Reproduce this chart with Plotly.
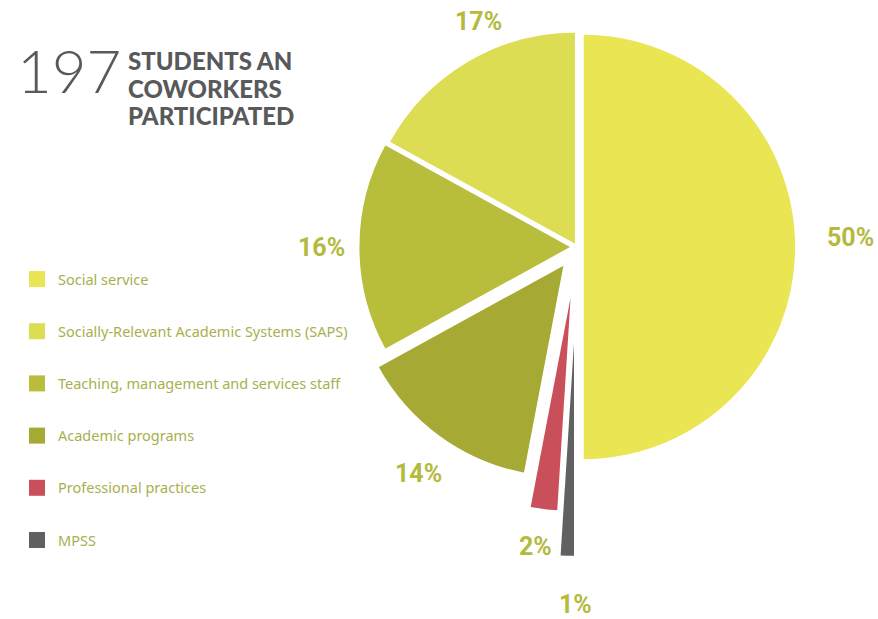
import math
import plotly.graph_objects as go

# Slice data, clockwise from 12 o'clock
labels = [
    "Social service",
    "MPSS",
    "Professional practices",
    "Academic programs",
    "Teaching, management and services staff",
    "Socially-Relevant Academic Systems (SAPS)",
]
values = [50, 1, 2, 14, 16, 17]

# Legend order (top to bottom)
legend_labels = [
    "Social service",
    "Socially-Relevant Academic Systems (SAPS)",
    "Teaching, management and services staff",
    "Academic programs",
    "Professional practices",
    "MPSS",
]

headline_number = "197"
headline_lines = ["STUDENTS AN", "COWORKERS", "PARTICIPATED"]

# Styling
colors = {
    "Social service": "#E9E553",
    "MPSS": "#616161",
    "Professional practices": "#C9505A",
    "Academic programs": "#A6A934",
    "Teaching, management and services staff": "#B8BD3C",
    "Socially-Relevant Academic Systems (SAPS)": "#DCDD53",
}
pulls = [0.028, 0.45, 0.24, 0.10, 0.025, 0.012]     # fraction of radius
edge_width = [1.5, 0, 0, 1.5, 1.5, 1.5]               # white slice outline
label_gap = [55, 47, 38, 42, 37, 30]                  # px beyond slice edge
label_nudge = [(0, -10), (10, 2), (-4, 0), (4, 3), (0, 0), (26, -14)]
pct_color = "#B3BA3E"
legend_text_color = "#A9AF4E"
title_color = "#58595B"

W, H = 878, 619
CX, CY, R = 577, 247, 213

n = len(values)
total = sum(values)

fig = go.Figure()
annotations = []
shapes = []

start = 0.0
for i, (lab, val) in enumerate(zip(labels, values)):
    mid = (start + val / 2.0) / total * 2 * math.pi
    start += val
    # exploded slice: each slice is its own pie, shifted outward along its bisector
    off = pulls[i] * R
    cx = CX + off * math.sin(mid)
    cy = CY - off * math.cos(mid)
    fig.add_trace(go.Pie(
        values=values,
        labels=labels,
        sort=False,
        direction="clockwise",
        rotation=0,
        textinfo="none",
        hoverinfo="label+percent",
        showlegend=False,
        marker=dict(
            colors=[colors[labels[j]] if j == i else "rgba(0,0,0,0)" for j in range(n)],
            line=dict(color="white", width=[edge_width[i] if j == i else 0 for j in range(n)]),
        ),
        domain=dict(
            x=[(cx - R) / W, (cx + R) / W],
            y=[1 - (cy + R) / H, 1 - (cy - R) / H],
        ),
    ))
    # percentage label outside the slice
    rr = R * (1 + pulls[i]) + label_gap[i]
    lx = CX + rr * math.sin(mid) + label_nudge[i][0]
    ly = CY - rr * math.cos(mid) + label_nudge[i][1]
    annotations.append(dict(
        x=lx / W, y=1 - ly / H, xref="paper", yref="paper",
        text=f"{val}%", showarrow=False, xanchor="center", yanchor="middle",
        font=dict(family="Roboto", size=25, color=pct_color, weight="bold"),
    ))

# Legend: squares with labels
for k, lab in enumerate(legend_labels):
    yc = 279 + k * 52.2
    shapes.append(dict(
        type="rect", xref="paper", yref="paper",
        x0=29 / W, x1=45 / W, y0=1 - (yc + 8) / H, y1=1 - (yc - 8) / H,
        fillcolor=colors[lab], line=dict(width=0),
    ))
    annotations.append(dict(
        x=56 / W, y=1 - (yc - 0.5) / H, xref="paper", yref="paper",
        text=lab, showarrow=False, xanchor="left", yanchor="middle",
        font=dict(family="Noto Sans", size=14.5, color=legend_text_color),
    ))

# Headline
annotations.append(dict(
    x=15 / W, y=1 - 70 / H, xref="paper", yref="paper",
    text=headline_number, showarrow=False, xanchor="left", yanchor="middle",
    font=dict(family="Lato", size=60, color=title_color, weight=300),
))
for k, line in enumerate(headline_lines):
    annotations.append(dict(
        x=126 / W, y=1 - (60 + 28 * k) / H, xref="paper", yref="paper",
        text=line, showarrow=False, xanchor="left", yanchor="middle",
        font=dict(family="Lato", size=24, color=title_color, weight=900),
    ))

fig.update_layout(
    width=W, height=H,
    margin=dict(l=0, r=0, t=0, b=0),
    paper_bgcolor="white",
    plot_bgcolor="white",
    annotations=annotations,
    shapes=shapes,
    showlegend=False,
)

fig.write_html("out.html")
